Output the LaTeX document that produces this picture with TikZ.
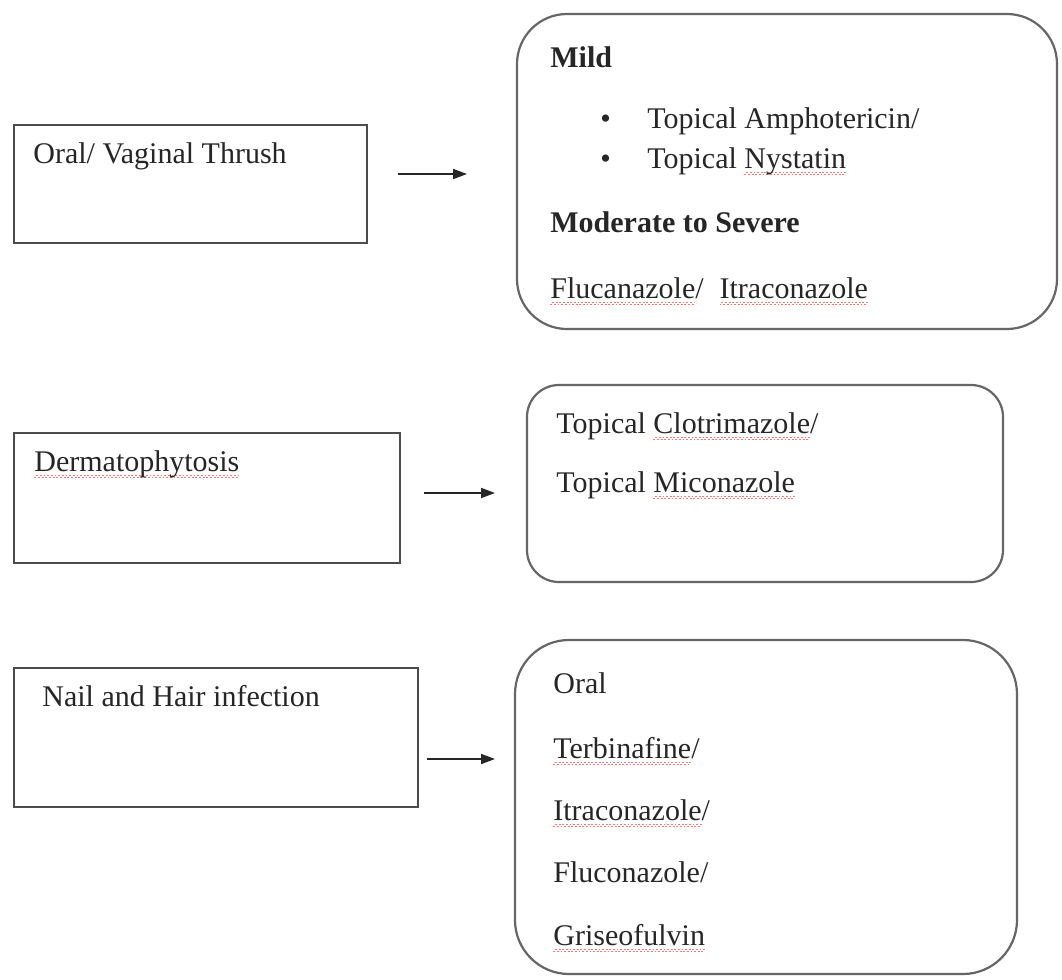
\documentclass[tikz,border=0pt]{standalone}
\usepackage{fontspec}
\setmainfont{Liberation Serif}
\usetikzlibrary{arrows.meta, fit}

% red spell-check wave under a word
\newcommand\wavebit{\hbox{\vrule width 0.9pt height 0pt depth 0.45pt\raise0.6pt\hbox{\vrule width 0.9pt height 0.45pt depth 0pt}}}
\newcommand\squiggle[1]{\setbox0=\hbox{#1}\leavevmode
  \rlap{\lower3.2pt\hbox{\color{red!55}\hbox to\wd0{\xleaders\wavebit\hfil}}}\box0}

\tikzset{
  sqbox/.style={draw=black!70, line width=1.3pt, inner sep=0pt},
  rndbox/.style={draw=black!60, line width=1.1pt, inner sep=0pt},
  txt/.style={anchor=base west, inner sep=0pt, text=black!85, font=\fontsize{15}{18}\selectfont},
  hdr/.style={txt, font=\fontsize{15}{18}\selectfont\bfseries},
  link/.style={-{Triangle[length=7pt, width=5pt]}, line width=0.9pt, black!85}
}

\begin{document}
\begin{tikzpicture}[x=0.5pt, y=-0.5pt]
  \path[use as bounding box, fill=white] (0,0) rectangle (1062,980);

  % Conditions
  \node[sqbox, fit={(14,125) (367,243)}] (thrush) {};
  \node[sqbox, fit={(14,433) (400,563)}] (dermato) {};
  \node[sqbox, fit={(14,668) (418,807)}] (nailhair) {};

  \node[txt] (thrushtxt) at (33,163) {Oral/ Vaginal Thrush};
  \node[txt] (dermatotxt) at (34,471) {\squiggle{Dermatophytosis}};
  \node[txt] (nailtxt) at (42,706) {Nail and Hair infection};

  % Treatment boxes
  \node[rndbox, rounded corners=25pt, fit={(517,14) (1057,329)}] (thrushrx) {};
  \node[rndbox, rounded corners=16pt, fit={(527,385) (1003,582)}] (dermatorx) {};
  \node[rndbox, rounded corners=27pt, fit={(515,640) (1017,974)}] (nailrx) {};

  % Oral / vaginal thrush treatment
  \node[hdr] (mild) at (550,67) {Mild};
  \node[txt] (ampho) at (600,128) {\makebox[23.5pt][l]{•}Topical Amphotericin/};
  \node[txt] (nysta) at (600,168) {\makebox[23.5pt][l]{•}Topical \squiggle{Nystatin}};
  \node[hdr] (modsev) at (550,232) {Moderate to Severe};
  \node[txt] (azoles) at (550,298) {\squiggle{Flucanazole}/\hspace{8pt}\squiggle{Itraconazole}};

  % Dermatophytosis treatment
  \node[txt] (clotri) at (556,433) {Topical \squiggle{Clotrimazole}/};
  \node[txt] (micon) at (556,492) {Topical \squiggle{Miconazole}};

  % Nail and hair treatment
  \node[txt] (oral) at (553,693) {Oral};
  \node[txt] (terbi) at (553,758) {\squiggle{Terbinafine}/};
  \node[txt] (itra) at (553,820) {\squiggle{Itraconazole}/};
  \node[txt] (fluco) at (553,882) {Fluconazole/};
  \node[txt] (grise) at (553,945) {\squiggle{Griseofulvin}};

  % Arrows
  \coordinate (a1) at (398,174);
  \coordinate (b1) at (467,174);
  \coordinate (a2) at (424,493);
  \coordinate (b2) at (495,493);
  \coordinate (a3) at (427,759);
  \coordinate (b3) at (495,759);
  \draw[link] (a1) -- (b1);
  \draw[link] (a2) -- (b2);
  \draw[link] (a3) -- (b3);
\end{tikzpicture}
\end{document}
